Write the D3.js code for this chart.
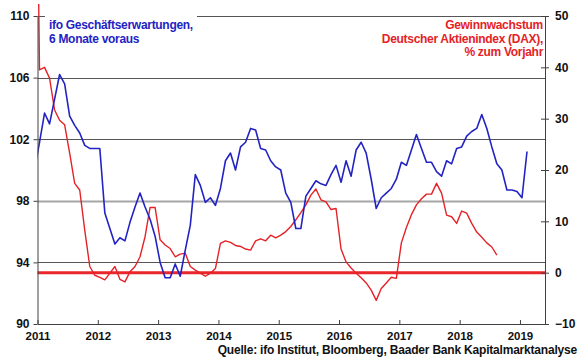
<!DOCTYPE html>
<html><head><meta charset="utf-8">
<script src="https://cdn.jsdelivr.net/npm/d3@7"></script>
<style>
body{margin:0;background:#fff}
svg{display:block;font-family:"Liberation Sans",Arial,sans-serif;font-weight:bold}
</style>
</head><body><svg id="c" width="580" height="359"></svg>
<script>
// ---------- data ----------
const yearTicks = [2011, 2012, 2013, 2014, 2015, 2016, 2017, 2018, 2019];
const leftTicks = [90, 94, 98, 102, 106, 110];
const rightTicks = [-10, 0, 10, 20, 30, 40, 50];
const leftGrid = [94, 98, 102, 106, 110];

// ifo Geschäftserwartungen, 6 Monate voraus (monthly, first = Dec 2010)
const ifoStart = {year: 2010, month: 12};
const ifoValues = [
  100.0, 101.8, 103.7, 103.0, 104.6, 106.2, 105.6, 103.5, 102.9, 102.4, 101.6, 101.4, 101.4,
  101.4, 97.2, 96.2, 95.2, 95.6, 95.4, 96.6, 97.6, 98.5, 97.6, 96.8, 95.7,
  94.0, 93.0, 93.0, 93.9, 93.1, 94.8, 96.4, 99.7, 99.0, 97.9, 98.2, 97.7,
  98.8, 100.6, 101.1, 100.0, 101.5, 101.8, 102.7, 102.6, 101.4, 101.3, 100.6, 100.2,
  100.0, 98.5, 97.9, 96.2, 96.2, 98.3, 98.8, 99.3, 99.1, 99.0, 99.7, 100.3,
  99.2, 100.6, 99.6, 101.3, 101.8, 101.1, 99.4, 97.5, 98.2, 98.5, 98.8, 99.4,
  100.5, 100.3, 101.3, 102.3, 101.4, 100.5, 100.5, 99.9, 99.6, 100.6, 100.4, 101.4,
  101.5, 102.2, 102.5, 102.7, 103.6, 102.7, 101.5, 100.4, 100.0, 98.7, 98.7, 98.6,
  98.2, 101.2
];

// Gewinnwachstum DAX, % zum Vorjahr (monthly, first = Dec 2010)
const daxStart = {year: 2010, month: 12};
const daxValues = [
  120, 39.5, 40.0, 37.9, 31.7, 29.7, 28.8, 23.3, 17.4, 16.1, 8.3, 1.2, -0.5,
  -0.9, -1.4, -0.1, 1.2, -1.3, -1.8, 0.2, 1.2, 3.1, 7.0, 12.7, 12.7,
  6.4, 5.4, 4.7, 3.1, 3.6, 3.8, 1.2, 0.5, -0.1, -0.7, -0.1, 0.8,
  5.7, 6.2, 5.9, 5.3, 5.1, 4.6, 4.4, 6.2, 6.6, 6.2, 7.3, 6.8,
  7.3, 8.0, 9.0, 10.3, 11.7, 13.2, 15.1, 16.3, 14.2, 13.8, 12.3, 12.5,
  4.6, 2.1, 0.9, -0.1, -1.0, -2.0, -3.4, -5.4, -3.1, -2.0, -0.9, -1.1,
  5.8, 8.8, 11.3, 13.2, 14.4, 15.3, 15.3, 17.4, 15.5, 11.2, 10.9, 9.6,
  12.0, 11.6, 9.6, 7.9, 6.9, 5.8, 5.0, 3.4
];

const titleLeft = ["ifo Geschäftserwartungen,", "6 Monate voraus"];
const titleRight = ["Gewinnwachstum", "Deutscher Aktienindex (DAX),", "% zum Vorjahr"];
const sourceText = "Quelle: ifo Institut, Bloomberg, Baader Bank Kapitalmarktanalyse";

// ---------- chart ----------
const svg = d3.select("#c");
const L = 37.5, R = 545, T = 16, B = 324;
const x = d3.scaleLinear().domain([2011, 2019.415]).range([L, R]);
const yL = d3.scaleLinear().domain([90, 110]).range([B, T]);
const yR = d3.scaleLinear().domain([-10, 50]).range([B, T]);

const blue = "#2323c4", red = "#e42227", axisCol = "#404040";

function monthPos(start, i) {
  return start.year + (start.month - 1 + i + 0.4) / 12;
}

// gridlines
svg.append("g").selectAll("line").data(leftGrid).join("line")
  .attr("x1", L).attr("x2", R)
  .attr("y1", d => Math.round(yL(d)) + 0.5).attr("y2", d => Math.round(yL(d)) + 0.5)
  .attr("stroke", d => d === 98 ? "#a6a6a6" : "#555")
  .attr("stroke-width", d => d === 98 ? 2 : 1);

// zero line of right axis
svg.append("line").attr("x1", L).attr("x2", R)
  .attr("y1", yR(0)).attr("y2", yR(0))
  .attr("stroke", "#e8262b").attr("stroke-width", 3);

// white box behind left title
svg.append("rect").attr("x", 45).attr("y", 12).attr("width", 152).attr("height", 34).attr("fill", "#fff");

svg.append("clipPath").attr("id", "clip").append("rect")
  .attr("x", L).attr("y", 4).attr("width", R - L).attr("height", B - 4);

const lineDax = d3.line().x((d, i) => x(monthPos(daxStart, i))).y(d => yR(d));
const lineIfo = d3.line().x((d, i) => x(monthPos(ifoStart, i))).y(d => yL(d));

const plot = svg.append("g").attr("clip-path", "url(#clip)");
plot.append("path").datum(daxValues).attr("d", lineDax)
  .attr("fill", "none").attr("stroke", red).attr("stroke-width", 1.4).attr("stroke-linejoin", "round");
plot.append("path").datum(ifoValues).attr("d", lineIfo)
  .attr("fill", "none").attr("stroke", blue).attr("stroke-width", 1.6).attr("stroke-linejoin", "round");

// axes
const gL = svg.append("g").attr("transform", `translate(${L},0)`)
  .call(d3.axisLeft(yL).tickValues(leftTicks).tickSizeInner(4).tickSizeOuter(0).tickPadding(4));
const gR = svg.append("g").attr("transform", `translate(${R},0)`)
  .call(d3.axisRight(yR).tickValues(rightTicks).tickSizeInner(4).tickSizeOuter(0).tickPadding(6));
gR.selectAll(".tick").append("line").attr("x1", -4).attr("x2", 0).attr("stroke", axisCol);
const gB = svg.append("g").attr("transform", `translate(0,${B})`)
  .call(d3.axisBottom(x).tickValues(yearTicks).tickFormat(d3.format("d")).tickSizeInner(-4).tickSizeOuter(0).tickPadding(8));

[gL, gR, gB].forEach(g => {
  g.selectAll("path.domain").attr("stroke", axisCol);
  g.selectAll(".tick line").attr("stroke", axisCol);
  g.selectAll("text").attr("fill", "#111").style("font-size", "12px").style("font-weight", "bold")
    .style("font-family", '"Liberation Sans", Arial, sans-serif');
});
gB.selectAll("text").style("font-size", "11.5px");

// titles
svg.append("text").attr("x", 49).attr("y", 29).attr("fill", blue)
  .style("font-size", "12px").style("letter-spacing", "-0.3px")
  .selectAll("tspan").data(titleLeft).join("tspan")
  .attr("x", 49).attr("dy", (d, i) => i ? 13.5 : 0).text(d => d);

svg.append("text").attr("y", 29).attr("fill", red).attr("text-anchor", "end")
  .style("font-size", "12px").style("letter-spacing", "-0.3px")
  .selectAll("tspan").data(titleRight).join("tspan")
  .attr("x", 543).attr("dy", (d, i) => i ? 13.5 : 0).text(d => d);

svg.append("text").attr("x", 577).attr("y", 353.5).attr("text-anchor", "end")
  .attr("fill", "#111").style("font-size", "12px").style("letter-spacing", "-0.2px")
  .text(sourceText);
</script>
</body></html>
